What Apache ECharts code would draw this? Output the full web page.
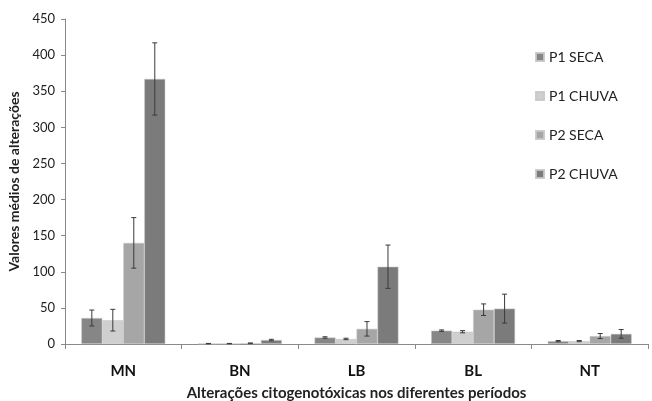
<!DOCTYPE html>
<html><head><meta charset="utf-8">
<script src="https://cdn.jsdelivr.net/npm/echarts@6/dist/echarts.min.js"></script>
<style>html,body{margin:0;padding:0;background:#fff;overflow:hidden}#c{width:652px;height:401px}</style>
</head><body><div id="c"></div>
<script>
const categories = ['MN','BN','LB','BL','NT'];
const seriesNames = ['P1 SECA','P1 CHUVA','P2 SECA','P2 CHUVA'];
const p1Seca = [36, 0.5, 9, 18.5, 4];
const p1Chuva = [33, 0.5, 7, 17, 4];
const p2Seca = [140, 1, 21, 47.5, 11];
const p2Chuva = [367, 5.5, 107, 49, 14];
const p1SecaErr = [11, 0.3, 1, 1, 0.8];
const p1ChuvaErr = [15, 0.3, 1, 1.5, 0.8];
const p2SecaErr = [35, 0.5, 10, 8, 3.5];
const p2ChuvaErr = [50, 1, 30, 20, 6];
const yTicks = [0,50,100,150,200,250,300,350,400,450];

const values = [p1Seca, p1Chuva, p2Seca, p2Chuva];
const errors = [p1SecaErr, p1ChuvaErr, p2SecaErr, p2ChuvaErr];
const colors = ['#868686', '#cfcfcf', '#a6a6a6', '#7b7b7b'];
const gapFrac = 0.28;
const font = 'Lato, "Open Sans", sans-serif';

const chart = echarts.init(document.getElementById('c'), null, {renderer:'canvas'});
const series = [];
values.forEach((v, i) => {
  series.push({
    name: seriesNames[i], type: 'bar', data: v,
    barGap: '0%', barCategoryGap: (gapFrac*100)+'%',
    itemStyle: {color: colors[i], borderColor: 'rgba(200,200,200,0.9)', borderWidth: 0.6},
    z: 2
  });
});
values.forEach((v, i) => {
  series.push({
    type: 'custom', name: 'err' + i,
    data: v.map((val, j) => [j, val - errors[i][j], val + errors[i][j]]),
    z: 5, silent: true,
    renderItem: function (params, api) {
      const idx = api.value(0);
      const band = api.size([1, 0])[0];
      const bw = band * (1 - gapFrac) / 4;
      const off = (i - 1.5) * bw;
      const lo = api.coord([idx, api.value(1)]);
      const hi = api.coord([idx, api.value(2)]);
      const x = lo[0] + off;
      const cap = 2.5;
      const st = {stroke: '#3a3a3a', lineWidth: 1};
      return {type: 'group', children: [
        {type: 'line', shape: {x1: x, y1: lo[1], x2: x, y2: hi[1]}, style: st},
        {type: 'line', shape: {x1: x-cap, y1: lo[1], x2: x+cap, y2: lo[1]}, style: st},
        {type: 'line', shape: {x1: x-cap, y1: hi[1], x2: x+cap, y2: hi[1]}, style: st}
      ]};
    }
  });
});

chart.setOption({
  animation: false,
  textStyle: {fontFamily: font},
  grid: {left: 65, right: 4, top: 19, bottom: 57, containLabel: false, outerBoundsMode: 'none'},
  legend: {
    data: seriesNames, orient: 'vertical', left: 530, top: 45,
    itemWidth: 8, itemHeight: 8, itemGap: 25, icon: 'rect',
    textStyle: {fontSize: 14, color: '#222', fontFamily: font}
  },
  xAxis: {
    type: 'category', data: categories,
    name: 'Alterações citogenotóxicas nos diferentes períodos',
    nameLocation: 'middle', nameGap: 42,
    nameTextStyle: {fontSize: 15, fontWeight: 'bold', color: '#222', fontFamily: font},
    axisLine: {lineStyle: {color: '#8a8a8a', width: 1}},
    axisTick: {show: true, length: 5, lineStyle: {color: '#8a8a8a'}},
    axisLabel: {fontSize: 15, fontWeight: 'bold', color: '#111', margin: 20, fontFamily: font}
  },
  yAxis: {
    type: 'value', min: 0, max: 450, interval: 50,
    name: 'Valores médios de alterações', nameLocation: 'middle', nameGap: 36, nameRotate: 90,
    nameTextStyle: {fontSize: 14, fontWeight: 'bold', color: '#222', fontFamily: font},
    axisLine: {show: true, lineStyle: {color: '#8a8a8a', width: 1}},
    axisTick: {show: true, length: 4, lineStyle: {color: '#8a8a8a'}},
    splitLine: {show: false},
    axisLabel: {fontSize: 13, color: '#222', margin: 10, fontFamily: font,
      formatter: v => yTicks.includes(v) ? String(v) : ''}
  },
  series: series
});
</script></body></html>
